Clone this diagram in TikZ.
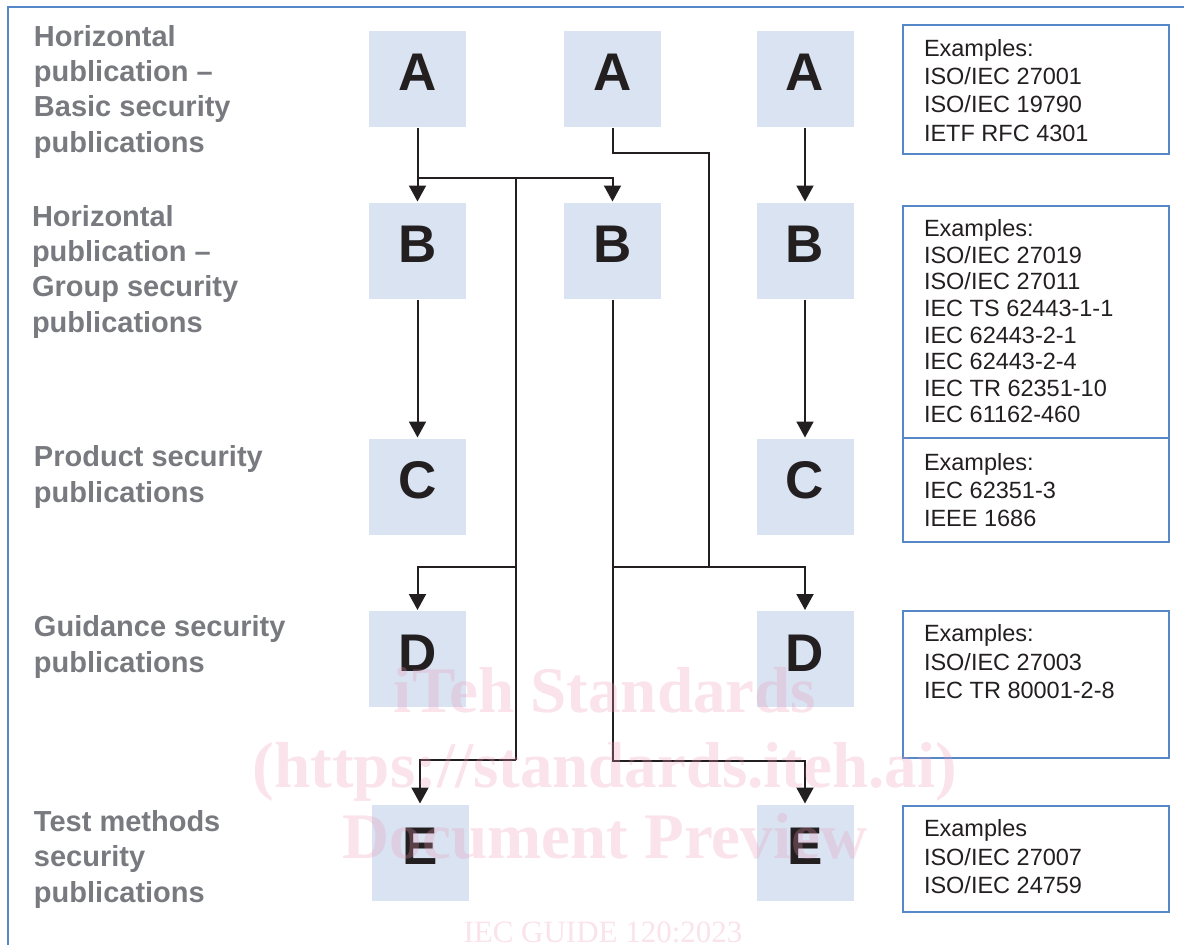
\documentclass[tikz,border=0pt]{standalone}
\usepackage{fontspec}
\setmainfont{Liberation Sans}
\newfontfamily\wmfont{Liberation Serif}
\usetikzlibrary{arrows.meta,positioning}
\definecolor{boxblue}{RGB}{217,227,242}
\definecolor{frameblue}{RGB}{84,136,200}
\definecolor{lblgray}{RGB}{120,122,128}
\definecolor{ink}{RGB}{35,31,32}
\definecolor{wmpink}{RGB}{235,150,180}
\tikzset{
  blk/.style={fill=boxblue,minimum width=97pt,minimum height=96pt,inner sep=0pt,text=ink,
    font=\fontsize{53}{60}\selectfont\bfseries,text height=38pt,text depth=14pt},
  lbl/.style={anchor=base west,align=left,inner sep=0pt,text=lblgray,
    font=\fontsize{29}{35.3}\selectfont\bfseries},
  exframe/.style={draw=frameblue,line width=2pt,minimum width=266pt,inner sep=0pt,anchor=north west},
  extext/.style={anchor=base west,align=left,inner sep=0pt,text=ink},
  wm/.style={anchor=base,text=wmpink,opacity=0.27,inner sep=0pt,
    font=\wmfont\fontsize{65}{70}\selectfont\bfseries}
}
% example list: [line skip]{name}{top}{height}{last baseline}{lines}
\newcommand{\exmp}[6][28.3]{\node[exframe,minimum height=#4] (#2) at (902,#3) {};
  \node[extext,font=\fontsize{23.5}{#1}\selectfont] (#2t) at (923,#5) {#6}; }

\begin{document}
\begin{tikzpicture}[x=1pt,y=-1pt,line width=2pt,draw=ink,>={Triangle[width=17pt,length=16pt]},node distance=172pt]
  \useasboundingbox (0,0) rectangle (1184,945);
  \draw[frameblue] (1184,7) -- (8,7) -- (8,945);
  % level labels (placed at last baseline)
  \node[lbl] (l1) at (33,152) {Horizontal\\publication --\\Basic security\\publications};
  \node[lbl] (l2) at (31,332) {Horizontal\\publication --\\Group security\\publications};
  \node[lbl] (l3) at (33,502) {Product security\\publications};
  \node[lbl] (l4) at (33,672) {Guidance security\\publications};
  \node[lbl] (l5) at (33,902) {Test methods\\security\\publications};
  % boxes
  \node[blk] (a1) at (417.5,78.5) {A};
  \node[blk] (b1) [below of=a1] {B};
  \node[blk] (c1) [below of=b1,node distance=236pt] {C};
  \node[blk] (d1) [below of=c1,node distance=172.5pt] {D};
  \node[blk] (e1) [below of=d1,node distance=193.5pt,xshift=2.5pt] {E};
  \node[blk] (a2) [right of=a1,node distance=195pt] {A};
  \node[blk] (b2) [right of=b1,node distance=195pt] {B};
  \node[blk] (a3) [right of=a2,node distance=192.5pt] {A};
  \node[blk] (b3) [right of=b2,node distance=192.5pt] {B};
  \node[blk] (c3) [right of=c1,node distance=387.5pt] {C};
  \node[blk] (d3) [right of=d1,node distance=387.5pt] {D};
  \node[blk] (e3) [below of=d3,node distance=193.5pt] {E};
  % branch points
  \coordinate (j1) at (417.5,178);
  \coordinate (j2) at (516,178);
  \coordinate (j3) at (516,567);
  \coordinate (j4) at (516,760);
  \coordinate (k1) at (709,153);
  \coordinate (k2) at (709,567);
  \coordinate (k3) at (612.5,567);
  \coordinate (k4) at (612.5,761);
  \draw[->] (a1) -- (b1);
  \draw[->] (b1) -- (c1);
  \draw[->] (j1) -| (b2);
  \draw (j2) -- (j4);
  \draw[->] (j3) -| (d1);
  \draw[->] (j4) -| (e1);
  \draw (a2) |- (k1) -- (k2);
  \draw[->] (k3) -| (d3);
  \draw[->] (b2) -- (k4) -| (e3);
  \draw[->] (a3) -- (b3);
  \draw[->] (b3) -- (c3);
  % examples
  \exmp{x1}{23.5}{129.5pt}{141}{Examples:\\ISO/IEC 27001\\ISO/IEC 19790\\IETF RFC 4301}
  \exmp[26.6]{x2}{205}{232pt}{422.8}{Examples:\\ISO/IEC 27019\\ISO/IEC 27011\\IEC TS 62443-1-1\\IEC 62443-2-1\\IEC 62443-2-4\\IEC TR 62351-10\\IEC 61162-460}
  \exmp{x3}{437}{104pt}{526.6}{Examples:\\IEC 62351-3\\IEEE 1686}
  \exmp{x4}{610}{147pt}{698.3}{Examples:\\ISO/IEC 27003\\IEC TR 80001-2-8}
  \exmp{x5}{805}{106pt}{893.3}{Examples\\ISO/IEC 27007\\ISO/IEC 24759}
  % watermark
  \node[wm] (w1) at (605,712) {iTeh Standards};
  \node[wm] (w2) at (605,787) {(https://standards.iteh.ai)};
  \node[wm] (w3) at (605,858) {Document Preview};
  \node[wm,font=\wmfont\fontsize{31}{34}\selectfont] (w4) at (603,942) {IEC GUIDE 120:2023};
\end{tikzpicture}
\end{document}
